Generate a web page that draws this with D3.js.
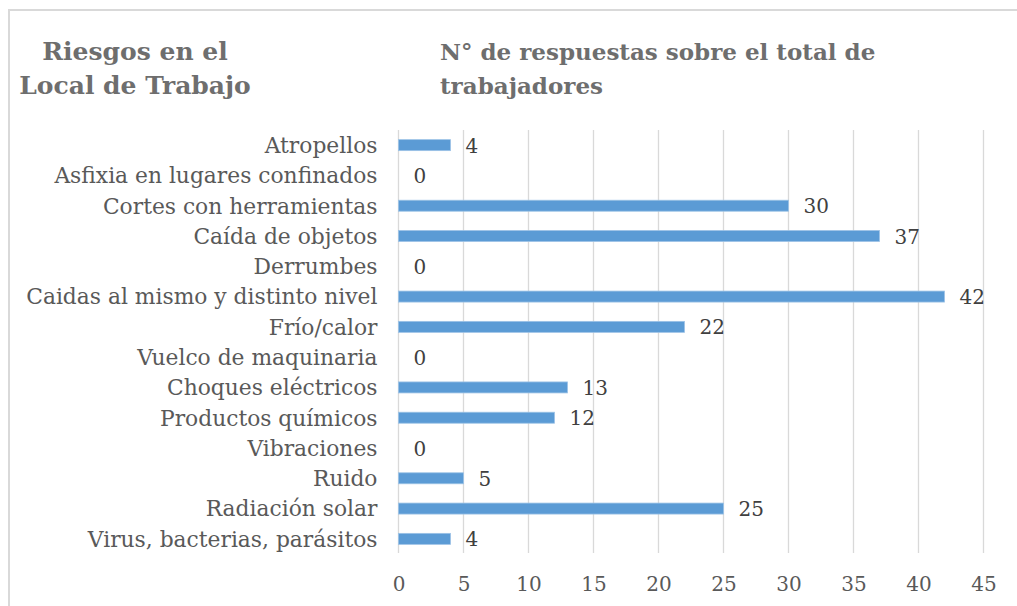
<!DOCTYPE html>
<html>
<head>
<meta charset="utf-8">
<script src="https://cdn.jsdelivr.net/npm/d3@7/dist/d3.min.js"></script>
<style>
  html, body { margin: 0; padding: 0; background: #fff; }
  svg { display: block; }
  text { font-family: "DejaVu Serif", "Liberation Serif", serif; }
</style>
</head>
<body>
<svg id="chart" width="1017" height="606"></svg>
<script>
const categories = [
  "Atropellos",
  "Asfixia en lugares confinados",
  "Cortes con herramientas",
  "Caída de objetos",
  "Derrumbes",
  "Caidas al mismo y distinto nivel",
  "Frío/calor",
  "Vuelco de maquinaria",
  "Choques eléctricos",
  "Productos químicos",
  "Vibraciones",
  "Ruido",
  "Radiación solar",
  "Virus, bacterias, parásitos"
];
const values = [4, 0, 30, 37, 0, 42, 22, 0, 13, 12, 0, 5, 25, 4];
const tickValues = [0, 5, 10, 15, 20, 25, 30, 35, 40, 45];
const titleLeft = ["Riesgos en el", "Local de Trabajo"];
const titleRight = ["N° de respuestas sobre el total de", "trabajadores"];

const numFont = "\"DejaVu Serif Condensed\", \"DejaVu Serif\", serif";
const svg = d3.select("#chart");

// chart border (top and left visible)
svg.append("rect")
  .attr("x", 9).attr("y", 10)
  .attr("width", 1017).attr("height", 620)
  .attr("fill", "none")
  .attr("stroke", "#d9d9d9")
  .attr("stroke-width", 2);

const plot = { left: 398.5, right: 983.5, top: 130, bottom: 553 };

const x = d3.scaleLinear().domain([0, 45]).range([plot.left, plot.right]);
const y = d3.scaleBand().domain(categories)
  .range([130, 554]).paddingInner(0.64).paddingOuter(0.32);

// gridlines
svg.append("g")
  .selectAll("line")
  .data(tickValues)
  .join("line")
  .attr("x1", d => x(d)).attr("x2", d => x(d))
  .attr("y1", plot.top).attr("y2", plot.bottom)
  .attr("stroke", "#d9d9d9")
  .attr("stroke-width", 1.3);

// bars
svg.append("g")
  .selectAll("rect")
  .data(values)
  .join("rect")
  .attr("x", x(0))
  .attr("y", (d, i) => y(categories[i]) + y.bandwidth() / 2 - 5.5)
  .attr("width", d => x(d) - x(0))
  .attr("height", 11)
  .attr("fill", "#5b9bd5")
  .attr("stroke", d => d > 0 ? "#9dc3e6" : "none")
  .attr("stroke-width", 0.8);

// value labels
svg.append("g")
  .selectAll("text")
  .data(values)
  .join("text")
  .attr("x", d => x(d) + 15)
  .attr("y", (d, i) => y(categories[i]) + y.bandwidth() / 2)
  .attr("dy", "0.38em")
  .attr("font-family", numFont)
  .attr("font-size", 20)
  .attr("fill", "#404040")
  .text(d => d);

// category labels (y axis)
const yAxis = d3.axisLeft(y).tickSize(0).tickPadding(0);
const gy = svg.append("g")
  .attr("transform", `translate(${plot.left - 21},0)`)
  .call(yAxis);
gy.select(".domain").remove();
gy.selectAll("text")
  .attr("font-family", "\"DejaVu Serif\", serif")
  .attr("font-size", 21.8)
  .attr("fill", "#595959")
  .attr("dy", "0.36em");

// x axis tick labels
const xAxis = d3.axisBottom(x).tickValues(tickValues).tickSize(0).tickPadding(0);
const gx = svg.append("g")
  .attr("transform", `translate(0,${583})`)
  .call(xAxis);
gx.select(".domain").remove();
gx.selectAll("text")
  .attr("font-family", numFont)
  .attr("font-size", 20)
  .attr("fill", "#595959")
  .attr("dy", "0.38em");

// titles
svg.append("g").selectAll("text")
  .data(titleLeft)
  .join("text")
  .attr("x", 135)
  .attr("y", (d, i) => 60 + i * 34)
  .attr("text-anchor", "middle")
  .attr("font-size", 25)
  .attr("font-weight", "bold")
  .attr("fill", "#6e6e6e")
  .text(d => d);

svg.append("g").selectAll("text")
  .data(titleRight)
  .join("text")
  .attr("x", 440)
  .attr("y", (d, i) => 60 + i * 34)
  .attr("font-size", 23)
  .attr("font-weight", "bold")
  .attr("fill", "#6e6e6e")
  .text(d => d);
</script>
</body>
</html>
